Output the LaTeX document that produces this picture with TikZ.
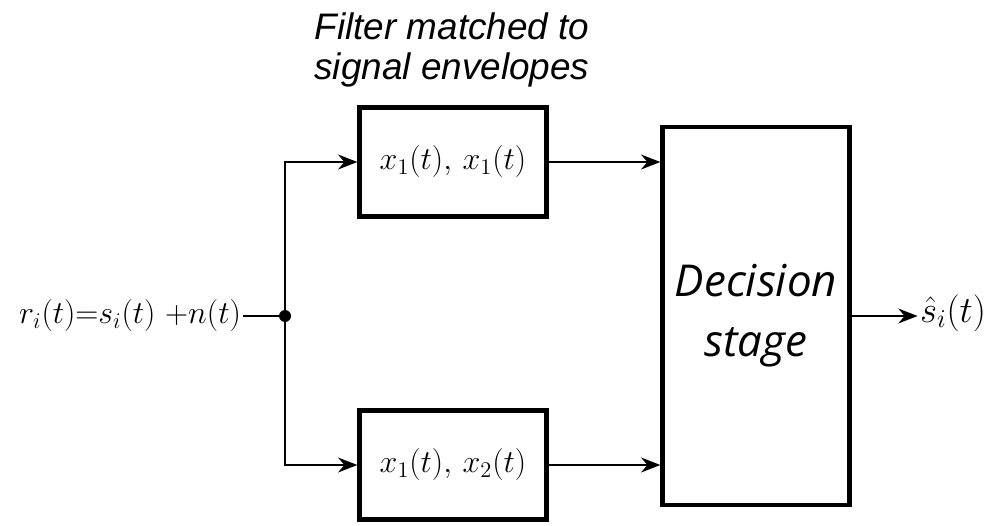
\documentclass[tikz,border=0pt]{standalone}
\usepackage{fix-cm}
\usepackage{amsmath, amssymb}
\usepackage{fontspec}
\newfontfamily\arialfont{Liberation Sans}
\newfontfamily\decfont{Open Sans}
\usetikzlibrary{arrows.meta}

\begin{document}
\begin{tikzpicture}[
    block/.style = {draw, line width=2.4pt, minimum width=3.74cm, minimum height=2.18cm, inner sep=0pt},
    conn/.style = {line width=1pt, -{Stealth[length=11pt, width=8.5pt]}},
    mathtxt/.style = {font=\fontsize{18.2}{22}\selectfont}
]
    \useasboundingbox (0,0) rectangle (20.04,10.5);

    \node[block, mathtxt] (filtA) at (9.06,7.26) {$x_1(t),\, x_1(t)$};
    \node[block, mathtxt] (filtB) at (9.06,1.2) {$x_1(t),\, x_2(t)$};
    \node[block, minimum height=7.56cm, align=center, font=\decfont\itshape\fontsize{25}{34}\selectfont] (dec) at (15.12,4.18) {Decision\\stage};
    \node[align=center, font=\arialfont\itshape\fontsize{21}{23}\selectfont] (title) at (9.04,9.5) {Filter matched to\\signal envelopes};

    \node[anchor=east, inner sep=1pt, mathtxt] (in) at (4.86,4.18) {$r_i(t){=}s_i(t)\ {+}n(t)$};
    \node[anchor=west, inner sep=1pt, font=\fontsize{21}{24}\selectfont] (out) at (18.36,4.24) {$\hat{s}_i(t)$};
    \coordinate (split) at (5.7,4.18);

    \draw[line width=1pt] (in.east) -- (split);
    \fill (split) circle (0.12);
    \draw[conn] (split) |- (filtA.west);
    \draw[conn] (split) |- (filtB.west);
    \draw[conn] (filtA.east) -- (dec.west |- filtA.east);
    \draw[conn] (filtB.east) -- (dec.west |- filtB.east);
    \draw[conn] (dec.east) -- ++(1.32,0);
\end{tikzpicture}
\end{document}
